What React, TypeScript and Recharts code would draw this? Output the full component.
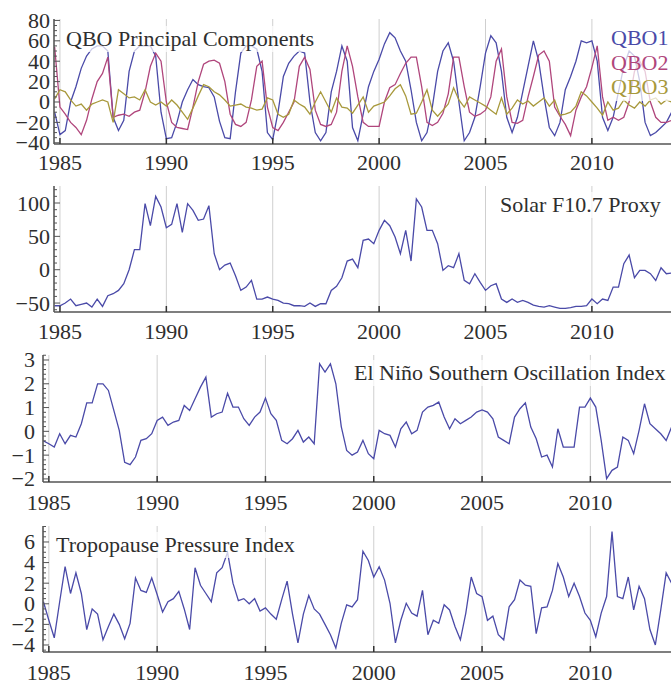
import React from "react";
import { LineChart, Line, XAxis, YAxis, CartesianGrid } from "recharts";

const FONT = '"Liberation Serif", "Times New Roman", Times, serif';
const TEXT = "#2e2e2e";
const FRAME = "#555";
const GRID = "#cfcfcf";
const BLUE = "#4a4aa8";
const CRIMSON = "#b0467c";
const OLIVE = "#a8993c";
const FS = 22;

// quarterly samples, first one at 1984.75
const START_YEAR = 1984.75;
const STEP = 0.25;
const YEAR_TICKS = [1985, 1990, 1995, 2000, 2005, 2010];

const QBO1 = [
  -10,
  -32, -28, 0, 15, 33, 45, 52, 55, 55, 50, -15, -28, -18, 30, 50, 55,
  55, 55, 45, -10, -36, -35, -20, 0, 12, 22, 17, 15, 14, 5, -19, -35,
  -36, 10, 48, 55, 55, 52, 30, -30, -37, -10, 25, 38, 45, 50, 48, 0,
  -30, -38, -30, 10, 30, 55, 40, -25, -38, -12, 15, 30, 42, 57, 68, 63,
  50, 40, 12, -20, -38, -30, -5, 30, 50, 58, 40, 0, -38, -30, -15, 15,
  48, 65, 58, 30, -15, -30, -15, 10, 35, 60, 40, 5, -25, -33, -20, 12,
  25, 40, 60, 58, 60, 40, -15, -28, -15, 10, 35, 50, 45, 20, -20, -33,
  -30, -25, -20, -10,
  0,
];
const QBO2 = [
  54,
  -5, -12, -20, -25, -32, -18, 3, 20, 28, 44, -15, -13, -12, -14, -10, -8,
  10, 35, 48, 40, 0, -20, -25, -26, -27, -5, 20, 37, 40, 41, 38, 20,
  -12, -22, -24, -20, 2, 35, 40, -5, -25, -28, -20, -10, 0, 35, 44, 32,
  -8, -22, -24, -22, -10, 30, 55, 35, 5, -20, -24, -24, -24, 0, 14, 17,
  28, 38, 44, 44, 15, -20, -23, -20, -11, 8, 44, 44, 15, -10, -14, -12,
  -8, 5, 40, 52, 5, -20, -21, -18, 5, 25, 46, 50, 40, -5, -14, -22,
  -33, -8, 5, 15, 34, 55, 5, -18, -15, -18, -15, 0, 30, 40, 30, 0,
  -15, -20, -20, -18,
  -15,
];
const QBO3 = [
  3,
  12, 10, 2, -4, -2, -8, -2, 0, 2, 0, -20, 12, 8, 4, 5, 2,
  12, 0, -3, 0, -4, 2, -3, -10, -17, -6, 6, 17, 15, 10, 7, 2,
  -4, -3, -2, -5, -6, -8, -7, 4, 2, -12, -15, -12, 2, -2, -5, -12,
  0, 10, 0, -10, 4, -5, -6, -11, -3, 5, -10, -4, -2, 0, 6, 13,
  17, 6, -12, -11, 0, 12, -8, -14, -8, -2, 14, 2, -5, 5, 2, -1,
  -4, -8, -12, 4, -12, -6, 2, -2, 1, -4, 0, 4, -4, 2, -13, -12,
  -10, -4, 10, 6, 0, -6, -13, 0, -8, -6, 2, -3, -6, 0, -4, 2,
  4, -2, 2, 0,
  0,
];
const SOLAR = [
  -54,
  -54, -50, -44, -54, -52, -50, -56, -44, -55, -39, -36, -31, -21, 0, 30, 30,
  99, 66, 110, 94, 63, 68, 99, 56, 99, 89, 74, 76, 96, 24, 0, 7,
  10, -9, -31, -26, -16, -44, -44, -41, -44, -46, -50, -51, -54, -54, -55, -50,
  -55, -51, -51, -31, -25, -12, 13, 16, 3, 44, 46, 39, 59, 74, 66, 49,
  24, 59, 13, 106, 94, 59, 59, 39, -1, 6, 3, 24, -16, -21, -6, -19,
  -31, -24, -21, -44, -49, -44, -49, -46, -49, -53, -55, -56, -54, -56, -58, -58,
  -57, -55, -55, -54, -44, -51, -44, -46, -26, -26, 9, 22, -12, -1, -1, -6,
  -16, 3, -6, -5,
  0,
];
const ENSO = [
  -0.4,
  -0.52, -0.66, -0.1, -0.52, -0.17, -0.24, 0.32, 1.2, 1.2, 2.0, 2.0, 1.72, 0.88, 0.04, -1.3, -1.4,
  -1.08, -0.38, -0.31, -0.1, 0.46, 0.6, 0.25, 0.39, 0.46, 1.09, 0.88, 1.37, 1.86, 2.28, 0.6, 0.74,
  0.81, 1.6, 1.02, 1.02, 0.53, 0.25, 0.6, 0.81, 1.4, 0.74, 0.46, -0.38, -0.52, -0.31, 0.04, -0.45,
  -0.24, -0.52, 2.84, 2.49, 2.84, 2.0, 0.2, -0.8, -1.0, -0.87, -0.38, -0.94, -1.15, 0.04, -0.1, -0.17,
  -0.66, 0.11, 0.39, -0.1, 0.04, 0.81, 1.02, 1.09, 1.23, 0.6, 0.11, 0.53, 0.32, 0.46, 0.6, 0.81,
  0.9, 0.81, 0.53, -0.24, -0.38, -0.52, 0.6, 0.95, 1.2, 0.18, -0.31, -1.08, -1.0, -1.5, 0.11, -0.66,
  -0.66, -0.66, 1.02, 1.02, 1.4, 1.02, -0.38, -1.99, -1.64, -1.5, -0.24, -0.38, -0.94, 0.04, 1.16, 0.32,
  0.11, -0.1, -0.38, 0.18,
  0.3,
];
const TROPO = [
  0.2,
  -1.6, -3.3, 0.2, 3.6, 1.0, 3.0, 1.0, -2.5, -0.5, -1.0, -3.5, -2.2, -1.0, -2.0, -3.4, -1.9,
  2.5, 1.3, 1.1, 2.5, 0.9, -0.8, 0.2, 0.5, 1.2, -0.5, -2.5, 3.5, 1.8, 1.0, 0.2, 3.0,
  3.5, 5.0, 2.0, 0.3, 0.5, 0.0, 0.5, -0.7, -0.4, -1.0, -1.5, 0.4, 2.2, -1.0, -3.8, -1.0,
  0.8, -0.5, -1.0, -2.0, -3.0, -4.3, -1.9, -0.1, -0.3, 0.4, 5.1, 4.2, 2.6, 3.6, 2.3, 0.05,
  -3.8, -1.6, 0.05, -0.9, -1.2, 1.3, -3.0, -1.6, -1.9, -0.1, -0.6, -2.2, -3.5, -0.9, 2.6, 1.0,
  0.7, -1.6, -1.2, -3.0, -3.5, -0.3, 0.4, 2.3, 1.8, 1.7, -2.9, -0.4, -0.3, 1.3, 3.9, 2.6,
  0.7, 2.0, 0.7, -0.9, -1.6, -3.2, -0.9, 0.7, 7.0, 0.7, 0.5, 2.6, -0.6, 1.7, 0.5, -2.5,
  -4.0, -0.6, 3.0, 2.0,
  1.5,
];

const QBO_TICKS = [-40, -20, 0, 20, 40, 60, 80];
const SOLAR_TICKS = [-50, 0, 50, 100];
const ENSO_TICKS = [-2, -1, 0, 1, 2, 3];
const TROPO_TICKS = [-4, -2, 0, 2, 4, 6];

const data = QBO1.map((v, i) => ({
  t: START_YEAR + i * STEP,
  qbo1: v,
  qbo2: QBO2[i],
  qbo3: QBO3[i],
  solar: SOLAR[i],
  enso: ENSO[i],
  tropo: TROPO[i],
}));

function minorTicks(lo: number, hi: number, step: number) {
  const out: number[] = [];
  for (let k = Math.ceil(lo / step); k * step <= hi + 1e-9; k++) out.push(Math.round(k * step * 1000) / 1000);
  return out;
}

const fmt = (v: number) => String(v).replace("-", "\u2212");

function YTick(props: any) {
  const { x, y, payload, majors, gap } = props;
  const v = payload.value;
  const major = majors.some((m: number) => Math.abs(m - v) < 1e-6);
  return (
    <g>
      <line x1={x} x2={x + (major ? 6 : 3)} y1={y} y2={y} stroke={FRAME} strokeWidth={1} />
      {major && (
        <text x={x - gap} y={y} textAnchor="end" dominantBaseline="central" fontFamily={FONT} fontSize={FS} fill={TEXT}>
          {fmt(v)}
        </text>
      )}
    </g>
  );
}

function XTick(props: any) {
  const { x, y, payload, gap, top } = props;
  return (
    <g>
      <line x1={x} x2={x} y1={y} y2={top ? y + 6 : y - 6} stroke="#333" strokeWidth={1.5} />
      {!top && (
        <text x={x} y={y + gap} textAnchor="middle" dominantBaseline="central" fontFamily={FONT} fontSize={FS} fill={TEXT}>
          {payload.value}
        </text>
      )}
    </g>
  );
}

type Series = { key: string; color: string };

function Panel(props: {
  plotTop: number;
  plotHeight: number;
  plotLeft: number;
  xDomain: [number, number];
  yDomain: [number, number];
  majors: number[];
  minorStep: number;
  yGap: number;
  xGap: number;
  series: Series[];
}) {
  const { plotTop, plotHeight, plotLeft, xDomain, yDomain, majors, minorStep, yGap, xGap, series } = props;
  const W = 700;
  const MT = 10;
  const XH = 32;
  const plotRight = 677;
  const yTicks = minorTicks(yDomain[0], yDomain[1], minorStep);
  return (
    <div style={{ position: "absolute", left: 0, top: plotTop - MT }}>
      <LineChart width={W} height={MT + plotHeight + XH} data={data} margin={{ top: MT, right: W - plotRight, left: 0, bottom: 0 }}>
        <CartesianGrid horizontal={false} stroke={GRID} strokeWidth={1} />
        <XAxis
          dataKey="t"
          type="number"
          domain={xDomain}
          ticks={YEAR_TICKS}
          interval={0}
          height={XH}
          tickSize={0}
          tickMargin={0}
          axisLine={{ stroke: FRAME, strokeWidth: 1.5 }}
          tickLine={false}
          tick={<XTick gap={xGap} />}
        />
        <XAxis
          xAxisId="top"
          orientation="top"
          dataKey="t"
          type="number"
          domain={xDomain}
          ticks={YEAR_TICKS}
          interval={0}
          height={0}
          tickSize={0}
          tickMargin={0}
          axisLine={{ stroke: FRAME, strokeWidth: 1.5 }}
          tickLine={false}
          tick={<XTick top />}
        />
        <YAxis
          type="number"
          domain={yDomain}
          ticks={yTicks}
          interval={0}
          width={plotLeft}
          tickSize={0}
          tickMargin={0}
          axisLine={{ stroke: FRAME, strokeWidth: 1.5 }}
          tickLine={false}
          tick={<YTick majors={majors} gap={yGap} />}
        />
        {series.map((s) => (
          <Line
            key={s.key}
            dataKey={s.key}
            type="linear"
            stroke={s.color}
            strokeWidth={1.3}
            dot={false}
            isAnimationActive={false}
          />
        ))}
      </LineChart>
    </div>
  );
}

const labelStyle: React.CSSProperties = {
  position: "absolute",
  fontFamily: FONT,
  fontSize: FS,
  lineHeight: "26px",
  color: TEXT,
  background: "rgba(255,255,255,0.72)",
  padding: "0 3px",
  whiteSpace: "nowrap",
};

const LEGEND = [
  { name: "QBO1", color: BLUE },
  { name: "QBO2", color: CRIMSON },
  { name: "QBO3", color: OLIVE },
];

export default function App() {
  return (
    <div style={{ position: "absolute", left: 0, top: 0, width: 671, height: 683, overflow: "hidden", background: "#fff" }}>
      <Panel
        plotTop={19}
        plotHeight={125}
        plotLeft={54}
        xDomain={[1984.72, 2014]}
        yDomain={[-41.2, 81.4]}
        majors={QBO_TICKS}
        minorStep={5}
        yGap={4}
        xGap={18}
        series={[
          { key: "qbo1", color: BLUE },
          { key: "qbo2", color: CRIMSON },
          { key: "qbo3", color: OLIVE },
        ]}
      />
      <Panel
        plotTop={186}
        plotHeight={126}
        plotLeft={54}
        xDomain={[1984.72, 2014]}
        yDomain={[-63.4, 125.5]}
        majors={SOLAR_TICKS}
        minorStep={10}
        yGap={4}
        xGap={19}
        series={[{ key: "solar", color: BLUE }]}
      />
      <Panel
        plotTop={355}
        plotHeight={127}
        plotLeft={43}
        xDomain={[1984.73, 2014]}
        yDomain={[-2.13, 3.21]}
        majors={ENSO_TICKS}
        minorStep={0.2}
        yGap={8}
        xGap={20}
        series={[{ key: "enso", color: BLUE }]}
      />
      <Panel
        plotTop={526}
        plotHeight={126}
        plotLeft={43}
        xDomain={[1984.73, 2014]}
        yDomain={[-4.68, 7.55]}
        majors={TROPO_TICKS}
        minorStep={0.5}
        yGap={8}
        xGap={20}
        series={[{ key: "tropo", color: BLUE }]}
      />

      <div style={{ ...labelStyle, left: 63, top: 26 }}>QBO Principal Components</div>
      <div
        style={{
          position: "absolute",
          left: 607,
          top: 26,
          width: 70,
          height: 75,
          background: "rgba(255,255,255,0.72)",
        }}
      >
        {LEGEND.map((l) => (
          <div
            key={l.name}
            style={{ display: "flex", alignItems: "center", height: 24.5, fontFamily: FONT, fontSize: FS, color: l.color, paddingLeft: 4 }}
          >
            <span>{l.name}</span>
            <span style={{ display: "inline-block", width: 12, marginLeft: 3, borderTop: `1.3px solid ${l.color}` }} />
          </div>
        ))}
      </div>
      <div style={{ ...labelStyle, left: 497, top: 192 }}>Solar F10.7 Proxy</div>
      <div style={{ ...labelStyle, left: 351, top: 360 }}>El Niño Southern Oscillation Index</div>
      <div style={{ ...labelStyle, left: 53, top: 532 }}>Tropopause Pressure Index</div>
    </div>
  );
}
